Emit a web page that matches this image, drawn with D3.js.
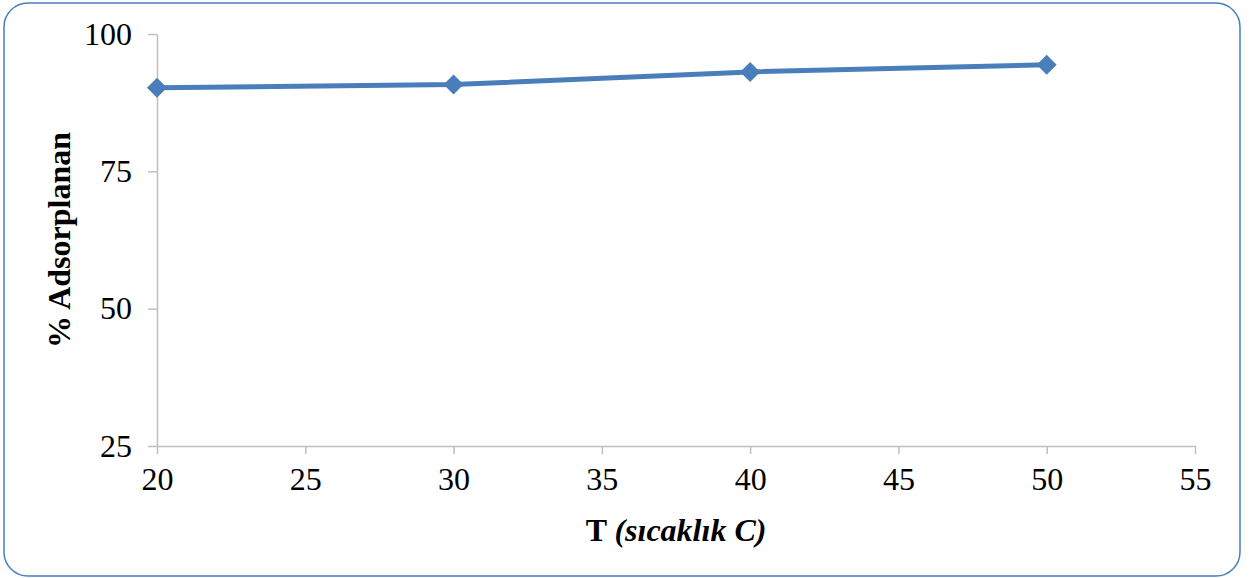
<!DOCTYPE html>
<html><head><meta charset="utf-8">
<script src="https://cdn.jsdelivr.net/npm/d3@7"></script>
<style>html,body{margin:0;padding:0;background:#fff;}svg{display:block;}
svg text{font-family:'Liberation Serif','Times New Roman',serif;}
.tick text{font-size:32px;fill:#000;}
</style>
</head><body>
<script>
const temps = [20, 30, 40, 50];
const adsorbed = [90.2, 90.8, 93.1, 94.4];
const xTicks = [20, 25, 30, 35, 40, 45, 50, 55];
const yTicks = [25, 50, 75, 100];

const W = 1252, H = 578;
const svg = d3.select("body").append("svg").attr("width", W).attr("height", H);
svg.append("rect").attr("x", 4).attr("y", 3).attr("width", 1236).attr("height", 573)
  .attr("rx", 24).attr("fill", "#fff").attr("stroke", "#4a7ebb").attr("stroke-width", 1.5);

const x = d3.scaleLinear().domain([20, 55]).range([157, 1195]);
const y = d3.scaleLinear().domain([25, 100]).range([446, 34]);

const xa = svg.append("g").attr("transform", `translate(0,${y(25)})`)
  .call(d3.axisBottom(x).tickValues(xTicks).tickSize(8).tickSizeOuter(0).tickPadding(13));
const ya = svg.append("g").attr("transform", `translate(${x(20)},0)`)
  .call(d3.axisLeft(y).tickValues(yTicks).tickSize(9).tickSizeOuter(0).tickPadding(16));
[xa, ya].forEach(a => {
  a.attr("font-family", null).attr("font-size", null);
  a.select(".domain").attr("stroke", "#bfbfbf").attr("stroke-width", 1.5);
  a.selectAll(".tick line").attr("stroke", "#bfbfbf").attr("stroke-width", 1.5);
  a.selectAll(".tick text").style("font-size", "32px").style("fill", "#000");
});

const data = temps.map((t, i) => [t, adsorbed[i]]);
svg.append("path").datum(data)
  .attr("d", d3.line().x(d => x(d[0])).y(d => y(d[1])))
  .attr("fill", "none").attr("stroke", "#4a7ebb").attr("stroke-width", 5).attr("stroke-linejoin", "round");
svg.selectAll(".pt").data(data).enter().append("path")
  .attr("transform", d => `translate(${x(d[0])},${y(d[1])})`)
  .attr("d", "M0,-10L10,0L0,10L-10,0Z").attr("fill", "#4a7ebb");

const xt = svg.append("text").attr("x", (x(20) + x(55)) / 2).attr("y", 541)
  .attr("text-anchor", "middle").style("font-size", "32px")
  .attr("font-weight", "bold").attr("fill", "#000");
xt.append("tspan").text("T ");
xt.append("tspan").attr("font-style", "italic").text("(sıcaklık C)");

svg.append("text").attr("transform", `translate(70,${(y(25) + y(100)) / 2}) rotate(-90)`)
  .attr("text-anchor", "middle").style("font-size", "32px")
  .attr("font-weight", "bold").attr("fill", "#000").text("% Adsorplanan");
</script>
</body></html>
